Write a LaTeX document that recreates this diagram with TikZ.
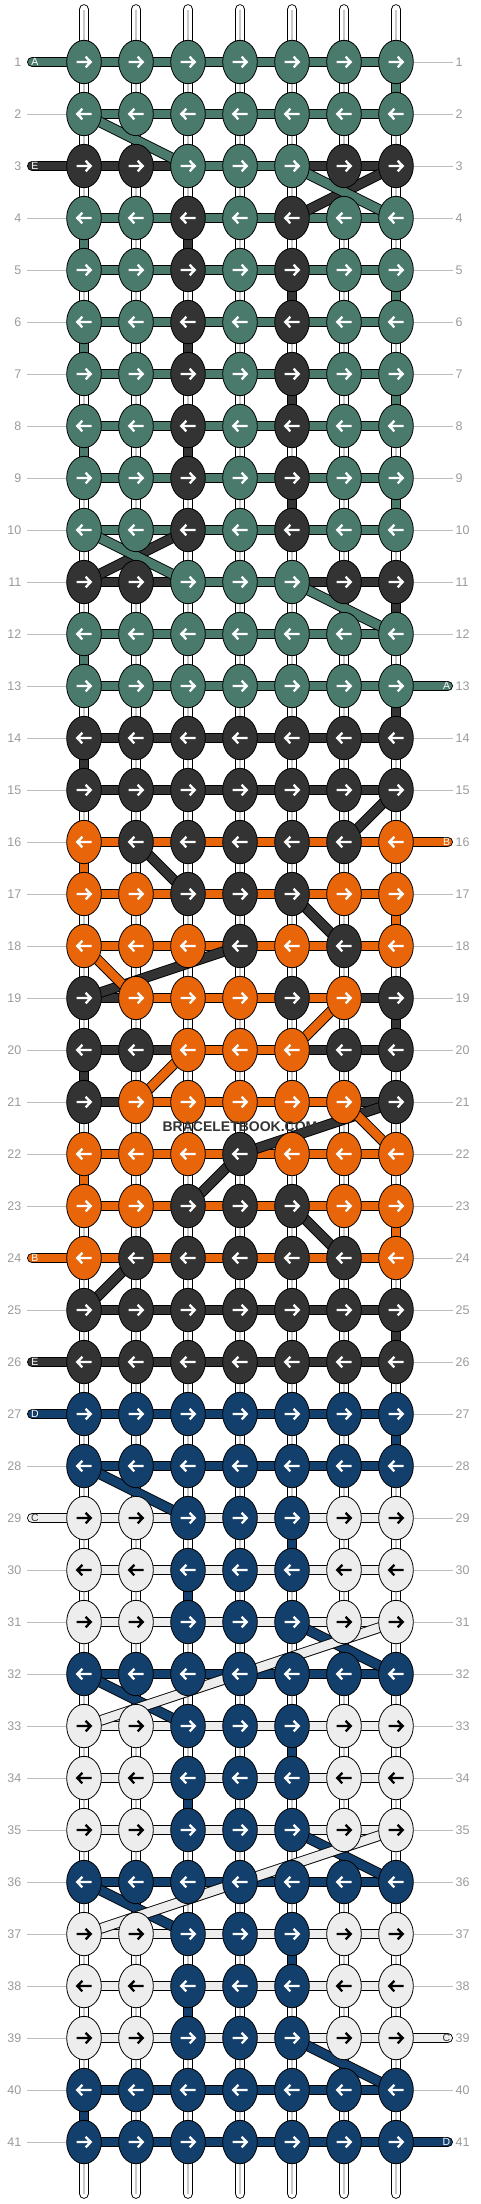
\documentclass[tikz,border=0pt]{standalone}
\usepackage{fontspec}
\setmainfont{Liberation Sans}
\usetikzlibrary{shapes.geometric}
\definecolor{cT}{HTML}{4A7A6B}
\definecolor{cK}{HTML}{333333}
\definecolor{cO}{HTML}{E8650A}
\definecolor{cB}{HTML}{123F6B}
\definecolor{cW}{HTML}{EDEDED}
\colorlet{aT}{white}\colorlet{aK}{white}\colorlet{aO}{white}\colorlet{aB}{white}\colorlet{aW}{black}
\definecolor{lblgrey}{HTML}{9A9A9A}
\definecolor{linegrey}{HTML}{BDBDBD}
\definecolor{strgrey}{HTML}{C8C8C8}
\pgfdeclarelayer{bg}\pgfdeclarelayer{mid}
\pgfsetlayers{bg,mid,main}
\tikzset{
  knot/.style={shape=ellipse, minimum width=34.6pt, minimum height=43.4pt, inner sep=0pt, draw=black, line width=0.8pt},
  cord/.style={draw=#1, line width=8.8pt, preaction={draw=black, line width=10.6pt}},
  endcord/.style={draw=#1, line width=8.8pt, line cap=round, preaction={draw=black, line width=10.6pt, line cap=round}},
  basestr/.style={draw=white, line width=8.8pt, line cap=round, preaction={draw=black, line width=10.6pt, line cap=round}},
  arr/.style={line width=2.3pt},
  rowlab/.style={text=lblgrey, font=\fontsize{12.5}{14}\selectfont, inner sep=0pt},
  guide/.style={draw=linegrey, line width=1pt},
  endlab/.style={font=\fontsize{10.5}{12}\selectfont, inner sep=0pt},
  arrowR/.pic={\draw[arr] (-7.5,0)--(6.6,0) (1.6,-5.3)--(6.8,0)--(1.6,5.3);},
  arrowL/.pic={\draw[arr] (7.5,0)--(-6.6,0) (-1.6,-5.3)--(-6.8,0)--(-1.6,5.3);},
}
\begin{document}
\begin{tikzpicture}[x=1pt,y=-1pt]
\useasboundingbox (0,0) rectangle (480,2204);
% base strings
\begin{pgfonlayer}{bg}
\foreach \j in {1,...,7} {
  \coordinate (top\j) at ({84+52*(\j-1)},9.5);
  \coordinate (bot\j) at ({84+52*(\j-1)},2193.5);
  \draw[basestr] (top\j) -- (bot\j);
  \draw[draw=strgrey, line width=1.1pt] (top\j) -- (bot\j);
}
\end{pgfonlayer}
% knots and row bars
\foreach \r/\cs/\bs in {
 1/{T,T,T,T,T,T,T}/{T,T,T,T,T,T},
 2/{T,T,T,T,T,T,T}/{T,T,T,T,T,T},
 3/{K,K,T,T,T,K,K}/{K,K,T,T,K,K},
 4/{T,T,K,T,K,T,T}/{T,T,T,T,T,T},
 5/{T,T,K,T,K,T,T}/{T,T,T,T,T,T},
 6/{T,T,K,T,K,T,T}/{T,T,T,T,T,T},
 7/{T,T,K,T,K,T,T}/{T,T,T,T,T,T},
 8/{T,T,K,T,K,T,T}/{T,T,T,T,T,T},
 9/{T,T,K,T,K,T,T}/{T,T,T,T,T,T},
 10/{T,T,K,T,K,T,T}/{T,T,T,T,T,T},
 11/{K,K,T,T,T,K,K}/{K,K,T,T,K,K},
 12/{T,T,T,T,T,T,T}/{T,T,T,T,T,T},
 13/{T,T,T,T,T,T,T}/{T,T,T,T,T,T},
 14/{K,K,K,K,K,K,K}/{K,K,K,K,K,K},
 15/{K,K,K,K,K,K,K}/{K,K,K,K,K,K},
 16/{O,K,K,K,K,K,O}/{O,O,O,O,O,O},
 17/{O,O,K,K,K,O,O}/{O,O,O,O,O,O},
 18/{O,O,O,K,O,K,O}/{O,O,O,O,O,O},
 19/{K,O,O,O,K,O,K}/{K,O,O,O,O,K},
 20/{K,K,O,O,O,K,K}/{K,K,O,O,K,K},
 21/{K,O,O,O,O,O,K}/{K,O,O,O,O,K},
 22/{O,O,O,K,O,O,O}/{O,O,O,O,O,O},
 23/{O,O,K,K,K,O,O}/{O,O,O,O,O,O},
 24/{O,K,K,K,K,K,O}/{O,O,O,O,O,O},
 25/{K,K,K,K,K,K,K}/{K,K,K,K,K,K},
 26/{K,K,K,K,K,K,K}/{K,K,K,K,K,K},
 27/{B,B,B,B,B,B,B}/{B,B,B,B,B,B},
 28/{B,B,B,B,B,B,B}/{B,B,B,B,B,B},
 29/{W,W,B,B,B,W,W}/{W,W,W,W,W,W},
 30/{W,W,B,B,B,W,W}/{W,W,W,W,W,W},
 31/{W,W,B,B,B,W,W}/{W,W,W,W,W,W},
 32/{B,B,B,B,B,B,B}/{B,B,B,B,B,B},
 33/{W,W,B,B,B,W,W}/{W,W,W,W,W,W},
 34/{W,W,B,B,B,W,W}/{W,W,W,W,W,W},
 35/{W,W,B,B,B,W,W}/{W,W,W,W,W,W},
 36/{B,B,B,B,B,B,B}/{B,B,B,B,B,B},
 37/{W,W,B,B,B,W,W}/{W,W,W,W,W,W},
 38/{W,W,B,B,B,W,W}/{W,W,W,W,W,W},
 39/{W,W,B,B,B,W,W}/{W,W,W,W,W,W},
 40/{B,B,B,B,B,B,B}/{B,B,B,B,B,B},
 41/{B,B,B,B,B,B,B}/{B,B,B,B,B,B}} {
  \foreach \kc [count=\j] in \cs {
    \node[knot, fill=c\kc] (k\r-\j) at ({84+52*(\j-1)},{62+52*(\r-1)}) {};
    \ifodd\r\relax
      \pic[color=a\kc] at (k\r-\j.center) {arrowR};
    \else
      \pic[color=a\kc] at (k\r-\j.center) {arrowL};
    \fi
  }
  \begin{pgfonlayer}{mid}
  \foreach \bc [count=\j] in \bs {
    \pgfmathtruncatemacro\jj{\j+1}
    \draw[cord=c\bc] (k\r-\j.center) -- (k\r-\jj.center);
  }
  \end{pgfonlayer}
}
% row numbers and guide lines
\foreach \r in {1,...,41} {
  \coordinate (gl\r) at (27,{62+52*(\r-1)});
  \coordinate (gr\r) at (453,{62+52*(\r-1)});
  \node[rowlab, anchor=east] (nl\r) at (21.5,{62+52*(\r-1)}) {\r};
  \node[rowlab, anchor=west] (nr\r) at (455.5,{62+52*(\r-1)}) {\r};
  \begin{pgfonlayer}{bg}
  \draw[guide] (gl\r) -- (k\r-1);
  \draw[guide] (k\r-7) -- (gr\r);
  \end{pgfonlayer}
}
% end threads
\foreach \r/\col/\txt/\tc in {1/T/A/white, 3/K/E/white, 24/O/B/white, 26/K/E/white, 27/B/D/white, 29/W/C/cK} {
  \coordinate (el\r) at (32.3,{62+52*(\r-1)});
  \begin{pgfonlayer}{mid}
  \draw[endcord=c\col] (el\r) -- (k\r-1.center);
  \end{pgfonlayer}
  \node[endlab, text=\tc] (tl\r) at (35,{62+52*(\r-1)}) {\txt};
}
\foreach \r/\col/\txt/\tc in {13/T/A/white, 16/O/B/white, 39/W/C/cK, 41/B/D/white} {
  \coordinate (er\r) at (447.7,{62+52*(\r-1)});
  \begin{pgfonlayer}{mid}
  \draw[endcord=c\col] (k\r-7.center) -- (er\r);
  \end{pgfonlayer}
  \node[endlab, text=\tc] (tr\r) at (446.5,{62+52*(\r-1)}) {\txt};
}
\begin{pgfonlayer}{mid}
% vertical coloured segments
\foreach \ra/\cc/\col in {1/7/T,4/1/T,4/3/K,5/5/K,5/7/T,6/1/T,6/3/K,7/5/K,7/7/T,8/1/T,8/3/K,9/5/K,9/7/T,11/7/K,12/1/T,13/7/K,14/1/K,16/1/O,17/7/O,19/7/K,20/1/K,22/1/O,23/7/O,25/7/K,27/7/B,29/5/B,30/3/B,33/5/B,34/3/B,37/5/B,38/3/B,40/1/B} {
  \pgfmathtruncatemacro\rb{\ra+1}
  \draw[cord=c\col] (k\ra-\cc.center) -- (k\rb-\cc.center);
}
% diagonal threads
\foreach \ra/\ca/\rb/\cb/\col in {
 3/7/4/5/K, 10/3/11/1/K, 15/7/16/6/K, 16/2/17/3/K, 17/5/18/6/K, 18/4/19/1/K, 21/7/22/4/K, 22/4/23/3/K, 23/5/24/6/K, 24/2/25/1/K,
 28/1/29/3/B, 31/5/32/7/B, 32/1/33/3/B, 35/5/36/7/B, 36/1/37/3/B, 39/5/40/7/B,
 18/1/19/2/O, 19/6/20/5/O, 20/3/21/2/O, 21/6/22/7/O,
 2/1/3/3/T, 3/5/4/7/T, 10/1/11/3/T, 11/5/12/7/T,
 31/7/33/1/W, 35/7/37/1/W} {
  \draw[cord=c\col] (k\ra-\ca.center) -- (k\rb-\cb.center);
}
\end{pgfonlayer}
% watermark
\node[font=\bfseries\fontsize{14}{16}\selectfont, text=cK, inner sep=0pt] (wm) at (240,1127) {BRACELETBOOK.COM};
\end{tikzpicture}
\end{document}
